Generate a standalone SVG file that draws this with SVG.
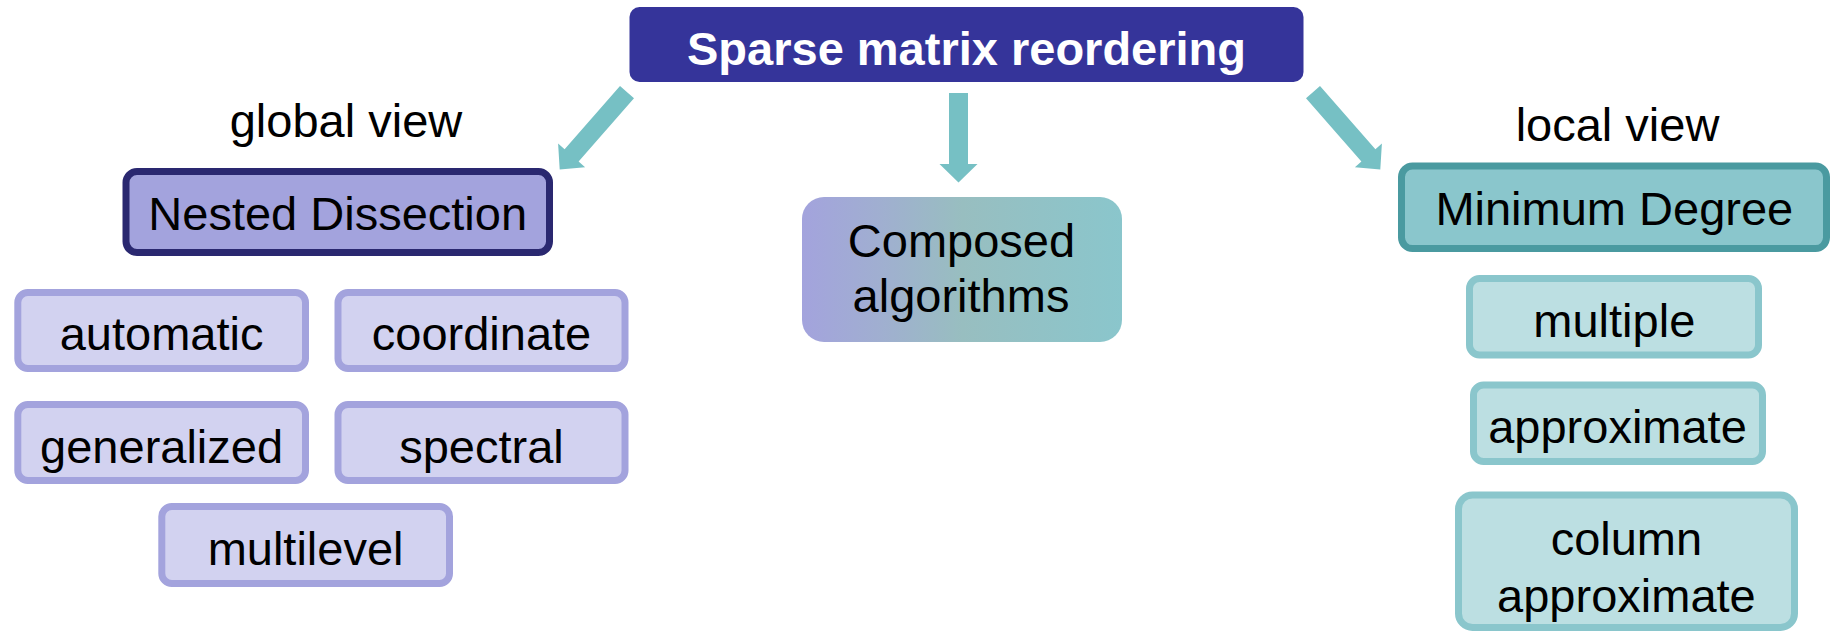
<svg xmlns="http://www.w3.org/2000/svg" width="1834" height="631" viewBox="0 0 1834 631">
  <defs>
    <linearGradient id="composedFill" x1="0" y1="0" x2="1" y2="0">
      <stop offset="0" stop-color="#a3a3dd"/>
      <stop offset="0.25" stop-color="#a0afd0"/>
      <stop offset="0.5" stop-color="#98bec0"/>
      <stop offset="1" stop-color="#8ac6cc"/>
    </linearGradient>
    <style>
      text { font-family: "Liberation Sans", Arial, sans-serif; font-size: 47px; fill: #000; text-anchor: middle; }
      .title { font-weight: bold; fill: #ffffff; }
      .nd { fill: #a3a3dd; stroke: #2a2870; stroke-width: 7; }
      .ndChild { fill: #d2d2f0; stroke: #a3a3dd; stroke-width: 7; }
      .md { fill: #8ac6cc; stroke: #4a9aa0; stroke-width: 7; }
      .mdChild { fill: #bcdfe2; stroke: #8ac6cc; stroke-width: 7; }
      .arrow { fill: #76c0c4; }
    </style>
  </defs>

  <rect width="1834" height="631" fill="#ffffff"/>

  <!-- root -->
  <g id="root">
    <rect x="629.5" y="7" width="674" height="75" rx="10" fill="#35349a"/>
    <text class="title" x="966.5" y="65">Sparse matrix reordering</text>
  </g>

  <!-- branch captions -->
  <g id="label-global">
    <text x="346" y="137">global view</text>
  </g>
  <g id="label-local">
    <text x="1617.5" y="141">local view</text>
  </g>

  <!-- connectors -->
  <g id="connectors">
    <polygon class="arrow" points="620,86.1 634,98.3 578.6,161.4 585.1,167.2 559.7,169.5 558.1,143.4 564.6,149.2"/>
    <polygon class="arrow" points="949,93 968,93 968,164 977.5,164 958.5,182.5 939.5,164 949,164"/>
    <polygon class="arrow" points="1320,86.1 1306,98.3 1361.4,161.4 1354.9,167.2 1380.3,169.5 1381.9,143.4 1375.4,149.2"/>
  </g>

  <!-- nested dissection family -->
  <g id="nested-dissection">
    <rect class="nd" x="126" y="171.5" width="423.5" height="81" rx="11"/>
    <text x="337.7" y="229.5">Nested Dissection</text>
  </g>
  <g id="nd-automatic">
    <rect class="ndChild" x="17.8" y="292.5" width="287.7" height="76" rx="10"/>
    <text x="161.6" y="350">automatic</text>
  </g>
  <g id="nd-coordinate">
    <rect class="ndChild" x="338" y="292.5" width="287" height="76" rx="10"/>
    <text x="481.5" y="350">coordinate</text>
  </g>
  <g id="nd-generalized">
    <rect class="ndChild" x="17.8" y="404.5" width="287.7" height="76" rx="10"/>
    <text x="161.6" y="463">generalized</text>
  </g>
  <g id="nd-spectral">
    <rect class="ndChild" x="338" y="404.5" width="287" height="76" rx="10"/>
    <text x="481.5" y="463">spectral</text>
  </g>
  <g id="nd-multilevel">
    <rect class="ndChild" x="161.8" y="506.5" width="287.7" height="77" rx="10"/>
    <text x="305.6" y="565">multilevel</text>
  </g>

  <!-- composed -->
  <g id="composed">
    <rect x="802" y="197" width="320" height="145" rx="22" fill="url(#composedFill)"/>
    <text x="961.5" y="256.7">Composed</text>
    <text x="961" y="311.7">algorithms</text>
  </g>

  <!-- minimum degree family -->
  <g id="minimum-degree">
    <rect class="md" x="1401.5" y="166" width="425" height="82.6" rx="11"/>
    <text x="1614.3" y="225">Minimum Degree</text>
  </g>
  <g id="md-multiple">
    <rect class="mdChild" x="1469.5" y="278.5" width="289" height="76.5" rx="10"/>
    <text x="1614.3" y="336.7">multiple</text>
  </g>
  <g id="md-approximate">
    <rect class="mdChild" x="1473.5" y="385" width="289" height="76.5" rx="10"/>
    <text x="1617.5" y="443">approximate</text>
  </g>
  <g id="md-column-approximate">
    <rect class="mdChild" x="1458.5" y="495" width="336" height="132.5" rx="14"/>
    <text x="1626.4" y="555">column</text>
    <text x="1626.4" y="612">approximate</text>
  </g>
</svg>
